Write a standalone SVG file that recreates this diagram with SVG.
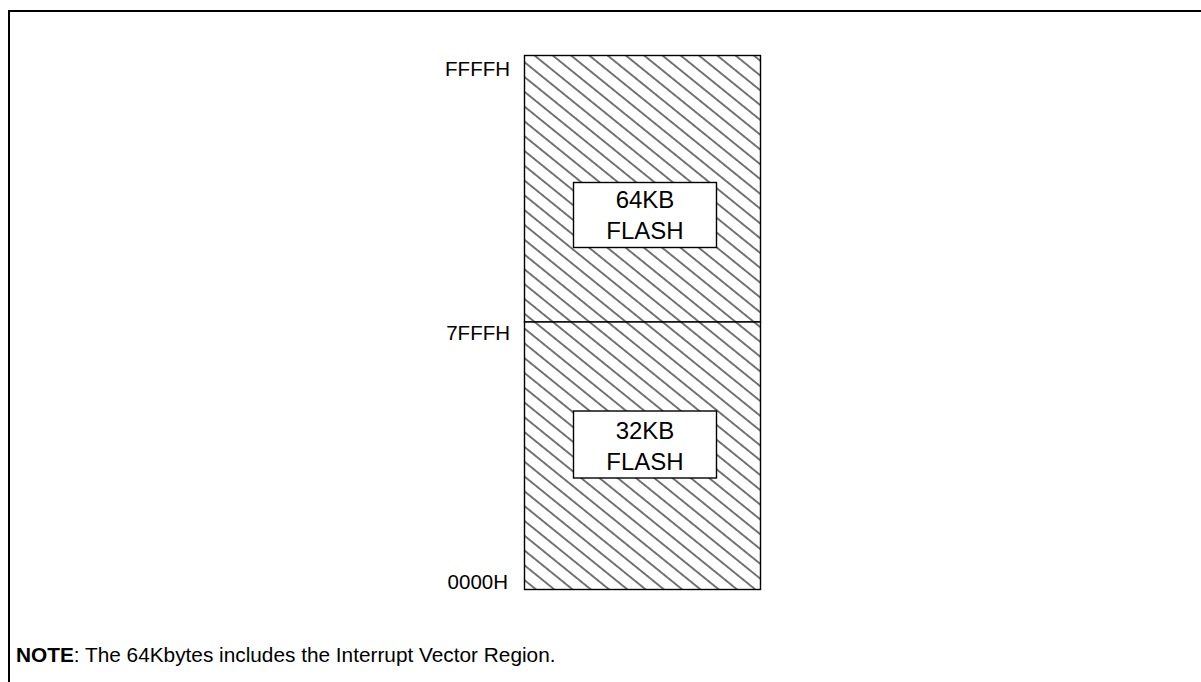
<svg xmlns="http://www.w3.org/2000/svg" width="1201" height="682" viewBox="0 0 1201 682">
<style>
  .lbl{font-family:"Liberation Sans",Arial,sans-serif;font-size:20.5px;fill:#000}
  .box{font-family:"Liberation Sans",Arial,sans-serif;font-size:24px;fill:#000;text-anchor:middle}
  .note{font-family:"Liberation Sans",Arial,sans-serif;font-size:20.8px;fill:#000}
  .region{fill:url(#hatch);stroke:#000;stroke-width:1.4}
  .inner{fill:#fff;stroke:#000;stroke-width:1.4}
</style>
<defs>
  <pattern id="hatch" patternUnits="userSpaceOnUse" width="20" height="11.5" patternTransform="rotate(39)">
    <rect width="20" height="11.5" fill="#fff"/>
    <line x1="0" y1="5.75" x2="20" y2="5.75" stroke="#1a1a1a" stroke-width="1.2"/>
  </pattern>
</defs>
<rect width="1201" height="682" fill="#fff"/>
<path d="M9 682 V11 H1201" fill="none" stroke="#000" stroke-width="2"/>
<g id="flash-upper">
  <rect class="region" x="524.5" y="55.5" width="236" height="266.5"/>
  <rect class="inner" x="573.5" y="182.5" width="143" height="65"/>
  <text class="box" x="645" y="208">64KB</text>
  <text class="box" x="645" y="239">FLASH</text>
</g>
<g id="flash-lower">
  <rect class="region" x="524.5" y="322" width="236" height="267.5"/>
  <rect class="inner" x="573.5" y="411" width="143" height="67"/>
  <text class="box" x="645" y="439">32KB</text>
  <text class="box" x="645" y="470">FLASH</text>
</g>
<g id="addr-ffff"><text class="lbl" x="510" y="76" text-anchor="end">FFFFH</text></g>
<g id="addr-7fff"><text class="lbl" x="510" y="340" text-anchor="end">7FFFH</text></g>
<g id="addr-0000"><text class="lbl" x="508" y="589" text-anchor="end">0000H</text></g>
<g id="note"><text class="note" x="16" y="662"><tspan font-weight="bold">NOTE</tspan>: The 64Kbytes includes the Interrupt Vector Region.</text></g>
</svg>
